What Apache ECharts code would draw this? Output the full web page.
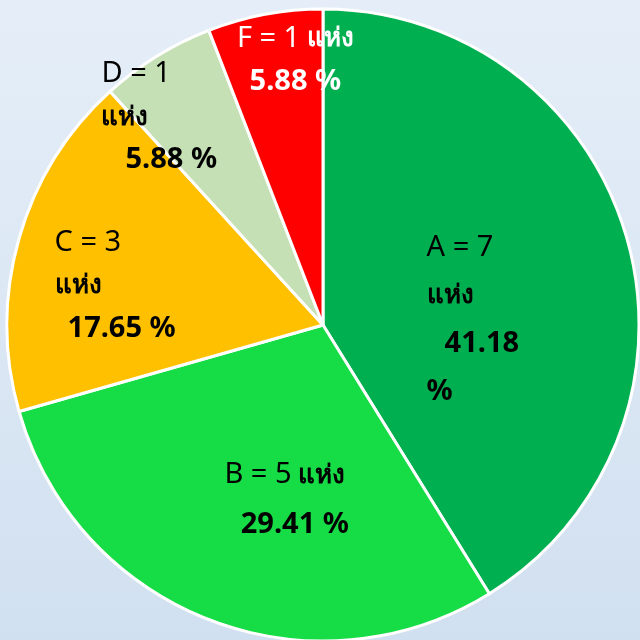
<!DOCTYPE html>
<html>
<head>
<meta charset="utf-8">
<script src="https://cdn.jsdelivr.net/npm/echarts@6/dist/echarts.min.js"></script>
<style>
  html, body { margin: 0; padding: 0; }
  #main { width: 640px; height: 640px; background: linear-gradient(180deg, #e5eef8 0%, #d1e0f0 100%); }
</style>
</head>
<body>
<div id="main"></div>
<script>
  // ข้อมูล
  var categories = ['A', 'B', 'C', 'D', 'F'];
  var counts = [7, 5, 3, 1, 1];
  var unit = 'แห่ง';
  var colors = ['#00b050', '#16dc46', '#ffc000', '#c5e0b4', '#ff0000'];

  // การวางป้ายแต่ละชิ้น (wrap, align, offset, indent)
  var labelLayouts = [
    { wrap: 'tall', align: 'left', offset: [-5, 39], indent: 18, lh: 48, color: '#000' },
    { wrap: 'wide', align: 'center', offset: [20, 25], indent: 20, lh: 50, color: '#000' },
    { wrap: 'mid', align: 'left', offset: [-53, 5], indent: 13, lh: 43, color: '#000' },
    { wrap: 'mid', align: 'left', offset: [-79, -71], indent: 24, lh: 43, color: '#000' },
    { wrap: 'wide', align: 'center', offset: [2, -107], indent: 0, lh: 43, color: '#fff' }
  ];

  function makeFormatter(lay) {
    return function (p) {
      var pct = p.percent.toFixed(2);
      var head = '{n|' + p.name + ' = ' + p.value + '}';
      if (lay.wrap === 'tall') {
        return head + '\n{u|' + unit + '}\n{pi|' + pct + '}\n{p|%}';
      } else if (lay.wrap === 'mid') {
        return head + '\n{u|' + unit + '}\n{pi|' + pct + ' %}';
      }
      return head + '{u| ' + unit + '}\n{pi|' + pct + ' %}';
    };
  }

  var seriesData = categories.map(function (c, i) {
    var lay = labelLayouts[i];
    var base = { fontFamily: 'Noto Sans', color: lay.color, lineHeight: lay.lh, align: lay.align };
    return {
      name: c,
      value: counts[i],
      itemStyle: { color: colors[i] },
      label: {
        position: 'inside',
        verticalAlign: 'middle',
        offset: lay.offset,
        color: lay.color,
        formatter: makeFormatter(lay),
        rich: {
          n: Object.assign({}, base, { fontSize: 29 }),
          u: Object.assign({}, base, { fontSize: 26, fontWeight: 'bold' }),
          p: Object.assign({}, base, { fontSize: 29, fontWeight: 'bold' }),
          pi: Object.assign({}, base, { fontSize: 29, fontWeight: 'bold', padding: [0, 0, 0, lay.indent] })
        }
      }
    };
  });

  var myChart = echarts.init(document.getElementById('main'));
  var option = {
    animation: false,
    series: [{
      type: 'pie',
      center: [323, 325],
      radius: 316,
      startAngle: 90,
      clockwise: true,
      itemStyle: { borderColor: '#ffffff', borderWidth: 3 },
      labelLine: { show: false },
      emphasis: { disabled: true },
      data: seriesData
    }]
  };
  myChart.setOption(option);
</script>
</body>
</html>
